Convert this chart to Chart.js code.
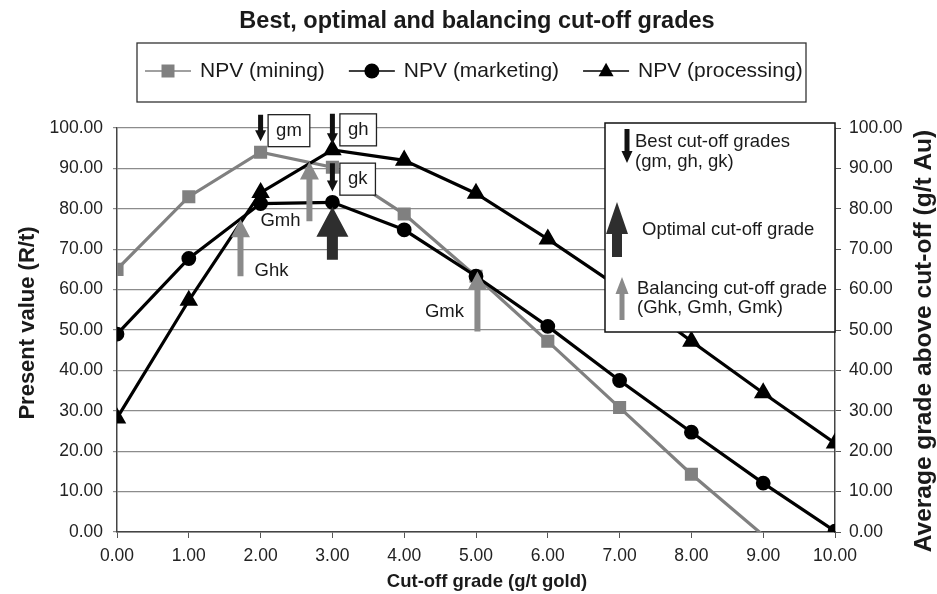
<!DOCTYPE html>
<html>
<head>
<meta charset="utf-8">
<title>Best, optimal and balancing cut-off grades</title>
<script src="https://cdn.jsdelivr.net/npm/chart.js@4.4.1/dist/chart.umd.min.js"></script>
<style>
  html, body { margin: 0; padding: 0; background: #fff; }
  #wrap { width: 937px; height: 594px; position: relative; }
</style>
</head>
<body>
<div id="wrap"><canvas id="cutoffChart"></canvas></div>
<script>
// cut-off grade (g/t gold)
const grades = [0, 1, 2, 3, 4, 5, 6, 7, 8, 9, 10];
// NPV curves (R/t)
const npvMining = [65, 83, 94, 90.3, 78.7, 63.3, 47.2, 30.8, 14.3, -0.8, null];
const npvMarketing = [49, 67.7, 81.3, 81.6, 74.8, 63.3, 50.9, 37.5, 24.7, 12.1, 0.2];
const npvProcessing = [28.2, 57.3, 84, 94.6, 92, 83.8, 72.5, 60.5, 47.2, 34.4, 22];

// best cut-off grades (black down arrows)
const bestLabels = ["gm", "gh", "gk"];
const bestGrades = [2, 3, 3];
const bestTail = [103.3, 103.5, 91.3];
const bestTip = [96.7, 96, 84.3];

// optimal cut-off grade (dark up arrow)
const optimalGrade = 3;
const optimalTip = 80.5;
const optimalBase = 67.4;

// balancing cut-off grades (grey up arrows)
const balancingLabels = ["Ghk", "Gmh", "Gmk"];
const balancingGrades = [1.72, 2.68, 5.02];
const balancingTip = [77.4, 91.7, 64.5];
const balancingBase = [63.3, 76.9, 49.6];

const FONT = '"Liberation Sans", Arial, Helvetica, sans-serif';
const GREY = "#808080";

function toPoints(values) {
  return grades.map((g, i) => ({ x: g, y: values[i] }));
}

function arrow(ctx, x, tipY, baseY, headW, headH, shaftW, color) {
  const dir = baseY > tipY ? 1 : -1;
  const neckY = tipY + dir * headH;
  ctx.save();
  ctx.fillStyle = color;
  ctx.beginPath();
  ctx.moveTo(x, tipY);
  ctx.lineTo(x + headW / 2, neckY);
  ctx.lineTo(x + shaftW / 2, neckY);
  ctx.lineTo(x + shaftW / 2, baseY);
  ctx.lineTo(x - shaftW / 2, baseY);
  ctx.lineTo(x - shaftW / 2, neckY);
  ctx.lineTo(x - headW / 2, neckY);
  ctx.closePath();
  ctx.fill();
  ctx.restore();
}

function marker(ctx, style, x, y, r, color) {
  ctx.fillStyle = color;
  ctx.beginPath();
  if (style === "rect") {
    ctx.rect(x - r, y - r, 2 * r, 2 * r);
  } else if (style === "triangle") {
    ctx.moveTo(x, y - r * 1.1);
    ctx.lineTo(x + r, y + r * 0.7);
    ctx.lineTo(x - r, y + r * 0.7);
    ctx.closePath();
  } else {
    ctx.arc(x, y, r, 0, Math.PI * 2);
  }
  ctx.fill();
}

function text(ctx, str, x, y, size, opts) {
  opts = opts || {};
  ctx.save();
  ctx.font = (opts.bold ? "bold " : "") + size + "px " + FONT;
  ctx.fillStyle = opts.color || "#1a1a1a";
  ctx.textAlign = opts.align || "left";
  ctx.textBaseline = "middle";
  ctx.translate(x, y);
  if (opts.rotate) ctx.rotate(opts.rotate);
  ctx.fillText(str, 0, 0);
  ctx.restore();
}

const decorations = {
  id: "decorations",
  afterDatasetsDraw(chart) {
    const ctx = chart.ctx;
    const xs = chart.scales.x;
    const ys = chart.scales.y;

    // balancing arrows
    const labelOffsets = [[31, -5], [-29, 0], [-33, -20]];
    balancingGrades.forEach((g, i) => {
      const px = xs.getPixelForValue(g);
      const base = ys.getPixelForValue(balancingBase[i]);
      arrow(ctx, px, ys.getPixelForValue(balancingTip[i]), base, 19, 18, 6, "#8a8a8a");
      text(ctx, balancingLabels[i], px + labelOffsets[i][0], base + labelOffsets[i][1], 18.5, { align: "center" });
    });

    // optimal arrow
    arrow(ctx, xs.getPixelForValue(optimalGrade), ys.getPixelForValue(optimalTip),
      ys.getPixelForValue(optimalBase), 32, 30, 11, "#2e2e2e");

    // best arrows with boxed labels
    bestGrades.forEach((g, i) => {
      const px = xs.getPixelForValue(g);
      const tail = ys.getPixelForValue(bestTail[i]);
      arrow(ctx, px, ys.getPixelForValue(bestTip[i]), tail, 11, 11, 5, "#111");
      ctx.save();
      ctx.font = "18.5px " + FONT;
      const w = ctx.measureText(bestLabels[i]).width + 16;
      ctx.fillStyle = "#fff";
      ctx.fillRect(px + 7.5, tail, w, 32);
      ctx.strokeStyle = "#222";
      ctx.lineWidth = 1.3;
      ctx.strokeRect(px + 7.5, tail, w, 32);
      ctx.restore();
      text(ctx, bestLabels[i], px + 7.5 + w / 2, tail + 16, 18.5, { align: "center" });
    });

    // arrow legend box
    ctx.save();
    ctx.fillStyle = "#fff";
    ctx.fillRect(605, 123, 230, 209);
    ctx.strokeStyle = "#111";
    ctx.lineWidth = 1.5;
    ctx.strokeRect(605, 123, 230, 209);
    ctx.restore();
    arrow(ctx, 627, 163, 129, 11, 12, 5, "#111");
    text(ctx, "Best cut-off grades", 635, 142, 18.5);
    text(ctx, "(gm, gh, gk)", 635, 162, 18.5);
    arrow(ctx, 617, 202, 257, 22, 32, 10, "#2e2e2e");
    text(ctx, "Optimal cut-off grade", 642, 230, 18.5);
    arrow(ctx, 622, 277, 320, 13, 17, 5, "#8a8a8a");
    text(ctx, "Balancing cut-off grade", 637, 289, 18.5);
    text(ctx, "(Ghk, Gmh, Gmk)", 637, 308, 18.5);
  },
  afterDraw(chart) {
    const ctx = chart.ctx;
    text(ctx, "Best, optimal and balancing cut-off grades", 477, 22, 23.5, { bold: true, align: "center" });
    text(ctx, "Present value (R/t)", 28, 323, 22, { bold: true, align: "center", rotate: -Math.PI / 2 });
    text(ctx, "Average grade above cut-off (g/t Au)", 924, 341, 24.5, { bold: true, align: "center", rotate: -Math.PI / 2 });
    text(ctx, "Cut-off grade (g/t gold)", 487, 582, 18.5, { bold: true, align: "center" });

    // series legend
    ctx.save();
    ctx.strokeStyle = "#333";
    ctx.lineWidth = 1.3;
    ctx.strokeRect(137, 43, 669, 59);
    ctx.restore();
    let lx = 145;
    const ly = 71;
    chart.data.datasets.forEach(ds => {
      ctx.save();
      ctx.strokeStyle = ds.borderColor;
      ctx.lineWidth = 1.3;
      ctx.beginPath();
      ctx.moveTo(lx, ly);
      ctx.lineTo(lx + 46, ly);
      ctx.stroke();
      marker(ctx, ds.pointStyle, lx + 23, ly, ds.pointStyle === "rect" ? 6.5 : 7.5, ds.pointBackgroundColor);
      ctx.font = "21px " + FONT;
      const tw = ctx.measureText(ds.label).width;
      ctx.restore();
      text(ctx, ds.label, lx + 55, ly, 21);
      lx += 55 + tw + 24;
    });
  }
};

const ctx = document.getElementById("cutoffChart").getContext("2d");

new Chart(ctx, {
  type: "line",
  data: {
    datasets: [
      {
        label: "NPV (mining)",
        data: toPoints(npvMining),
        borderColor: GREY,
        backgroundColor: GREY,
        pointBackgroundColor: GREY,
        pointBorderColor: GREY,
        pointStyle: "rect",
        pointRadius: c => (c.parsed && c.parsed.y < 0 ? 0 : 7),
        borderWidth: 3.2,
        order: 3
      },
      {
        label: "NPV (marketing)",
        data: toPoints(npvMarketing),
        borderColor: "#000",
        backgroundColor: "#000",
        pointBackgroundColor: "#000",
        pointBorderColor: "#000",
        pointStyle: "circle",
        pointRadius: 5.8,
        borderWidth: 3.2,
        order: 2
      },
      {
        label: "NPV (processing)",
        data: toPoints(npvProcessing),
        borderColor: "#000",
        backgroundColor: "#000",
        pointBackgroundColor: "#000",
        pointBorderColor: "#000",
        pointStyle: "triangle",
        pointRadius: 7.5,
        borderWidth: 3.2,
        order: 1
      }
    ]
  },
  options: {
    responsive: true,
    maintainAspectRatio: false,
    animation: false,
    events: [],
    layout: { padding: { top: 128, left: 0, right: 0, bottom: 0 } },
    plugins: {
      legend: { display: false },
      title: { display: false },
      tooltip: { enabled: false }
    },
    scales: {
      x: {
        type: "linear",
        min: 0,
        max: 10,
        afterFit: s => { s.height = 62; },
        ticks: {
          stepSize: 1,
          padding: 8,
          color: "#222",
          font: { family: FONT, size: 17.5 },
          callback: v => v.toFixed(2)
        },
        grid: { drawOnChartArea: false, drawTicks: true, tickLength: 6, color: "#555" },
        border: { color: "#444", width: 1.5 }
      },
      y: {
        position: "left",
        min: 0,
        max: 100,
        afterFit: s => { s.width = 117; },
        ticks: {
          stepSize: 10,
          padding: 10,
          color: "#222",
          font: { family: FONT, size: 17.5 },
          callback: v => v.toFixed(2)
        },
        grid: { color: "#8c8c8c", lineWidth: 1.2, tickLength: 4 },
        border: { color: "#444", width: 1.5 }
      },
      y2: {
        position: "right",
        min: 0,
        max: 100,
        afterFit: s => { s.width = 102; },
        ticks: {
          stepSize: 10,
          padding: 8,
          color: "#222",
          font: { family: FONT, size: 17.5 },
          callback: v => v.toFixed(2)
        },
        grid: { drawOnChartArea: false, tickLength: 6, color: "#555" },
        border: { color: "#444", width: 1.5 }
      }
    }
  },
  plugins: [decorations]
});
</script>
</body>
</html>
